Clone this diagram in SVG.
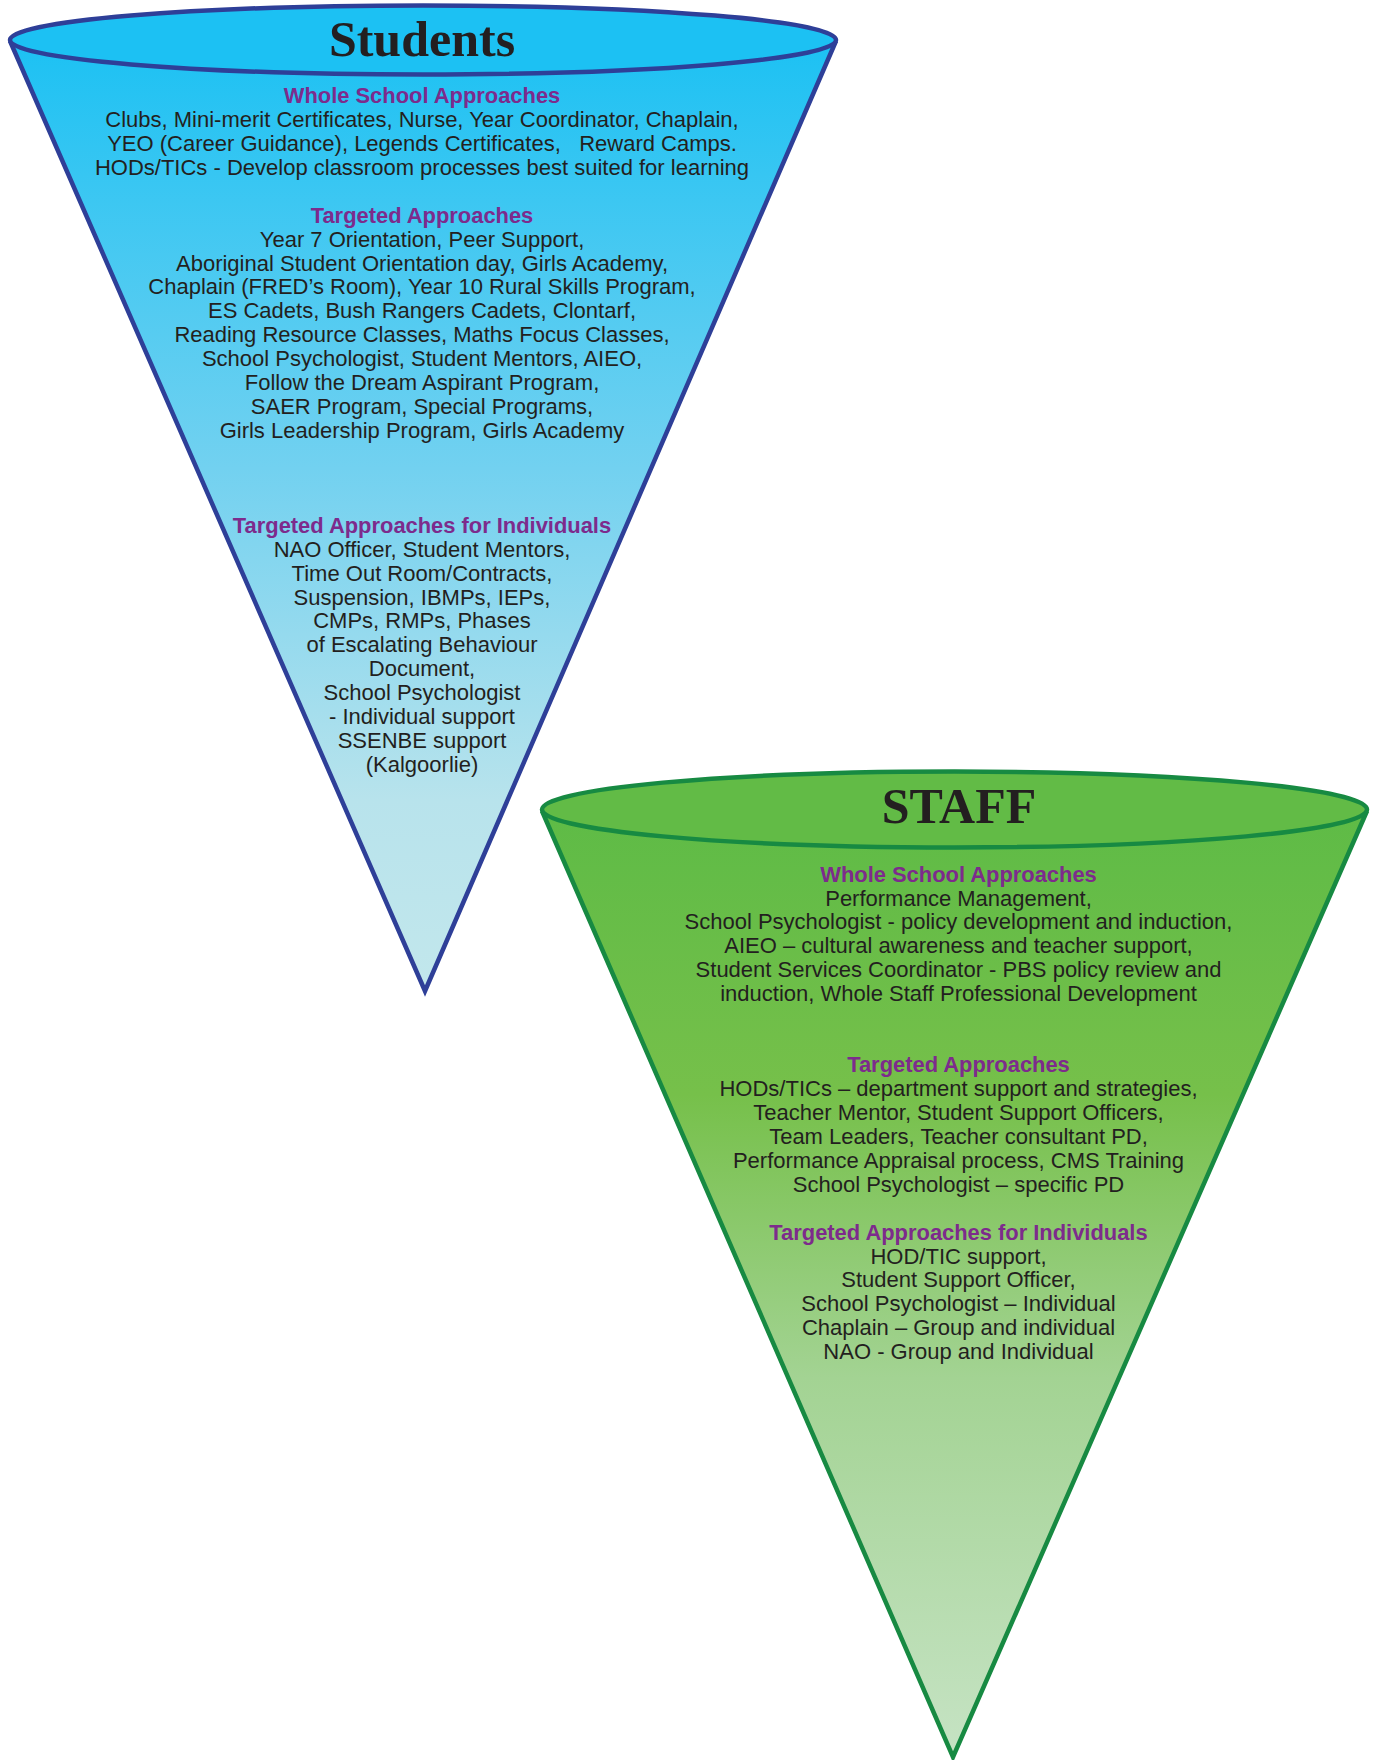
<svg xmlns="http://www.w3.org/2000/svg" width="1375" height="1760" viewBox="0 0 1375 1760">
<defs>
<linearGradient id="gStu" gradientUnits="userSpaceOnUse" x1="0" y1="41" x2="0" y2="991">
<stop offset="0" stop-color="#1CC1F3"/>
<stop offset="0.45" stop-color="#72D1F0"/>
<stop offset="0.8" stop-color="#B8E3EC"/>
<stop offset="1" stop-color="#C2E7EC"/>
</linearGradient>
<linearGradient id="gStaff" gradientUnits="userSpaceOnUse" x1="0" y1="810" x2="0" y2="1757">
<stop offset="0" stop-color="#5EBB46"/>
<stop offset="0.3" stop-color="#76C04A"/>
<stop offset="0.6" stop-color="#A3D393"/>
<stop offset="1" stop-color="#C6E3C4"/>
</linearGradient>
<style>
.title{font-family:"Liberation Serif","Times New Roman",serif;font-weight:bold;font-size:50px;fill:#231F20;text-anchor:middle}
.hd{font-family:"Liberation Sans",Arial,sans-serif;font-weight:bold;font-size:21.9px;fill:#7D2B8C;text-anchor:middle}
.bd{font-family:"Liberation Sans",Arial,sans-serif;font-size:22px;fill:#231F20;text-anchor:middle}
.stu{stroke:#2E3F98;stroke-width:4.5;stroke-linejoin:miter}
.stf{stroke:#178A42;stroke-width:4.5;stroke-linejoin:miter}
</style>
</defs>
<g id="connectors"/>
<g id="students">
<path class="stu" d="M10,41 L425,991 L836,41" fill="url(#gStu)"/>
<ellipse class="stu" cx="423" cy="40" rx="413" ry="34.5" fill="#1CC1F3"/>
<text class="title" x="422" y="55.5">Students</text>
<text class="hd" x="422" y="103">Whole School Approaches</text>
<text class="bd" x="422" y="127">Clubs, Mini-merit Certificates, Nurse, Year Coordinator, Chaplain,</text>
<text class="bd" x="422" y="151" style="white-space:pre">YEO (Career Guidance), Legends Certificates,   Reward Camps.</text>
<text class="bd" x="422" y="175">HODs/TICs - Develop classroom processes best suited for learning</text>
<text class="hd" x="422" y="223">Targeted Approaches</text>
<text class="bd" x="422" y="247">Year 7 Orientation, Peer Support,</text>
<text class="bd" x="422" y="271">Aboriginal Student Orientation day, Girls Academy,</text>
<text class="bd" x="422" y="294">Chaplain (FRED’s Room), Year 10 Rural Skills Program,</text>
<text class="bd" x="422" y="318">ES Cadets, Bush Rangers Cadets, Clontarf,</text>
<text class="bd" x="422" y="342">Reading Resource Classes, Maths Focus Classes,</text>
<text class="bd" x="422" y="366">School Psychologist, Student Mentors, AIEO,</text>
<text class="bd" x="422" y="390">Follow the Dream Aspirant Program,</text>
<text class="bd" x="422" y="414">SAER Program, Special Programs,</text>
<text class="bd" x="422" y="438">Girls Leadership Program, Girls Academy</text>
<text class="hd" x="422" y="533">Targeted Approaches for Individuals</text>
<text class="bd" x="422" y="557">NAO Officer, Student Mentors,</text>
<text class="bd" x="422" y="581">Time Out Room/Contracts,</text>
<text class="bd" x="422" y="605">Suspension, IBMPs, IEPs,</text>
<text class="bd" x="422" y="628">CMPs, RMPs, Phases</text>
<text class="bd" x="422" y="652">of Escalating Behaviour</text>
<text class="bd" x="422" y="676">Document,</text>
<text class="bd" x="422" y="700">School Psychologist</text>
<text class="bd" x="422" y="724">- Individual support</text>
<text class="bd" x="422" y="748">SSENBE support</text>
<text class="bd" x="422" y="772">(Kalgoorlie)</text>
</g>
<g id="staff">
<path class="stf" d="M542,811 L953,1757 L1367,811" fill="url(#gStaff)"/>
<ellipse class="stf" cx="954.5" cy="809.5" rx="412.5" ry="38" fill="#62BB46"/>
<text class="title" x="959" y="823">STAFF</text>
<text class="hd" x="958.5" y="882">Whole School Approaches</text>
<text class="bd" x="958.5" y="906">Performance Management,</text>
<text class="bd" x="958.5" y="929">School Psychologist - policy development and induction,</text>
<text class="bd" x="958.5" y="953">AIEO – cultural awareness and teacher support,</text>
<text class="bd" x="958.5" y="977">Student Services Coordinator - PBS policy review and</text>
<text class="bd" x="958.5" y="1001">induction, Whole Staff Professional Development</text>
<text class="hd" x="958.5" y="1072">Targeted Approaches</text>
<text class="bd" x="958.5" y="1096">HODs/TICs – department support and strategies,</text>
<text class="bd" x="958.5" y="1120">Teacher Mentor, Student Support Officers,</text>
<text class="bd" x="958.5" y="1144">Team Leaders, Teacher consultant PD,</text>
<text class="bd" x="958.5" y="1168">Performance Appraisal process, CMS Training</text>
<text class="bd" x="958.5" y="1192">School Psychologist – specific PD</text>
<text class="hd" x="958.5" y="1240">Targeted Approaches for Individuals</text>
<text class="bd" x="958.5" y="1264">HOD/TIC support,</text>
<text class="bd" x="958.5" y="1287">Student Support Officer,</text>
<text class="bd" x="958.5" y="1311">School Psychologist – Individual</text>
<text class="bd" x="958.5" y="1335">Chaplain – Group and individual</text>
<text class="bd" x="958.5" y="1359">NAO - Group and Individual</text>
</g>
</svg>
